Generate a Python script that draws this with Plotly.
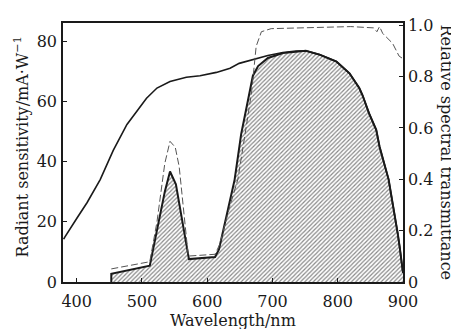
import plotly.graph_objects as go

# Photocathode radiant sensitivity (mA/W) - upper solid curve
pc_wl = [380, 382, 400, 416, 436, 456, 477, 492, 507, 523, 543, 568, 589, 614, 627, 635,
         649, 665, 693, 716, 736, 751, 772, 787, 798, 818, 833, 838, 848, 859, 864, 878,
         887, 892, 895, 899, 900]
pc_sens = [14.2, 15.0, 21.1, 26.4, 34.0, 43.7, 52.3, 56.6, 61.0, 64.4, 66.6, 68.0, 68.5, 69.6,
           70.5, 71.0, 72.6, 73.6, 75.2, 76.2, 76.7, 76.8, 75.5, 74.2, 73.2, 69.3, 64.4, 62.0,
           56.0, 50.5, 45.0, 34.0, 23.0, 16.0, 11.5, 5.5, 3.0]

# Sensitivity behind the filter (mA/W) - hatched area
sh_wl = [453, 453, 512, 525, 535, 543, 552, 572, 612, 618, 624, 642, 652, 663, 670, 678,
         693, 716, 736, 751, 772, 787, 798, 818, 833, 838, 848, 859, 864, 878, 887, 892,
         895, 899, 900]
sh_sens = [0, 2.7, 5.4, 19.0, 30.0, 36.7, 32.4, 7.6, 8.3, 10.8, 16.7, 34.0, 49.1, 61.0, 68.5,
           71.7, 74.4, 76.0, 76.6, 76.8, 75.5, 74.2, 73.2, 69.3, 64.4, 62.0, 56.0, 50.5, 45.0,
           34.0, 23.0, 16.0, 11.5, 5.5, 3.0]

# Relative spectral transmittance of the filter - dashed curve
tr_wl = [453, 512, 523, 535, 543, 551, 557, 563, 571, 612, 619, 635, 647, 658, 668, 675,
         683, 698, 736, 772, 820, 855, 860, 864, 869, 884, 894, 900]
tr_val = [0.051, 0.079, 0.234, 0.462, 0.548, 0.525, 0.45, 0.298, 0.101, 0.108, 0.146, 0.298,
          0.40, 0.576, 0.74, 0.918, 0.975, 0.987, 0.99, 0.993, 0.995, 0.99, 0.975, 0.995,
          0.968, 0.93, 0.88, 0.87]

x_ticks = [400, 500, 600, 700, 800, 900]
y_ticks = [0, 20, 40, 60, 80]
y2_ticks = [0, 0.2, 0.4, 0.6, 0.8, 1.0]
y2_labels = ["0", "0.2", "0.4", "0.6", "0.8", "1.0"]

FONT = "DejaVu Serif"
INK = "#1a1a1a"

fig = go.Figure()
fig.add_trace(go.Scatter(
    x=sh_wl, y=sh_sens, mode="lines", fill="tozeroy", fillcolor="white",
    fillpattern=dict(shape="/", fgcolor="#111111", bgcolor="white", size=3, solidity=0.4),
    line=dict(color=INK, width=2), hoverinfo="skip"))
fig.add_trace(go.Scatter(
    x=pc_wl, y=pc_sens, mode="lines", line=dict(color=INK, width=1.6)))
fig.add_trace(go.Scatter(
    x=tr_wl, y=tr_val, mode="lines", yaxis="y2",
    line=dict(color="#555555", width=1, dash="7px,3px")))

axis_common = dict(showgrid=False, zeroline=False, showline=True, linecolor=INK, linewidth=1.5,
                   ticks="inside", ticklen=4, tickcolor=INK, tickwidth=1.2,
                   tickfont=dict(family=FONT, size=16, color=INK))

fig.update_layout(
    width=451, height=321,
    margin=dict(l=55, r=56, t=8, b=47),
    paper_bgcolor="white", plot_bgcolor="white",
    showlegend=False,
    xaxis=dict(range=[379, 900], tickvals=x_ticks, mirror=True, ticklabelstandoff=4,
               **axis_common),
    yaxis=dict(range=[0, 86], tickvals=y_ticks, mirror=True, ticklabelstandoff=1,
               **axis_common),
    yaxis2=dict(range=[0, 1.009], tickvals=y2_ticks, ticktext=y2_labels, overlaying="y",
                side="right", **axis_common),
    annotations=[
        dict(text="Wavelength/nm", xref="paper", yref="paper", x=0.5, y=0,
             xanchor="center", yanchor="middle", yshift=-38, showarrow=False,
             font=dict(family=FONT, size=16, color=INK)),
        dict(text="Radiant sensitivity/mA·W<sup>−1</sup>", xref="paper", yref="paper", x=0, y=0.5,
             xanchor="center", yanchor="middle", xshift=-41, yshift=5, textangle=-90,
             showarrow=False, font=dict(family=FONT, size=16, color=INK)),
        dict(text="Relative spectral transmittance", xref="paper", yref="paper", x=1, y=0.5,
             xanchor="center", yanchor="middle", xshift=43, textangle=90,
             showarrow=False, font=dict(family=FONT, size=16, color=INK)),
    ],
)

fig.write_html("out.html")
